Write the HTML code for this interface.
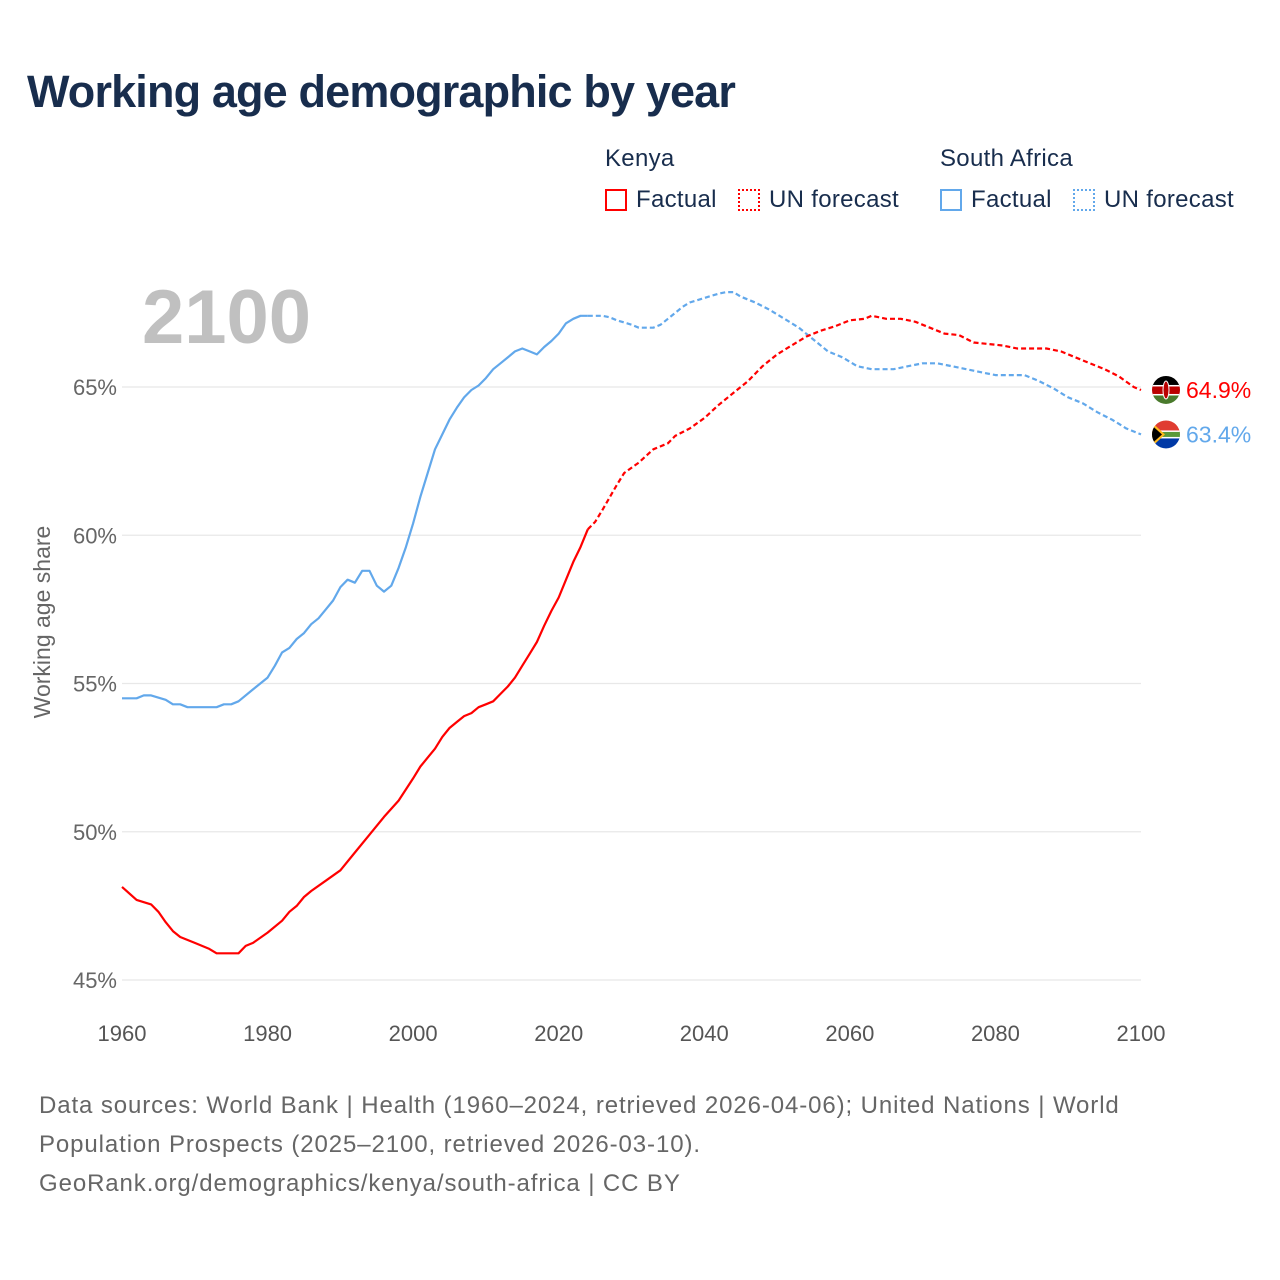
<!DOCTYPE html>
<html><head><meta charset="utf-8">
<style>
html,body{margin:0;padding:0;background:#fff;}
body{width:1280px;height:1280px;position:relative;overflow:hidden;font-family:"Liberation Sans",sans-serif;}
#title{position:absolute;left:27px;top:66px;font-size:45px;font-weight:bold;color:#182d4d;margin:0;letter-spacing:-0.85px;}
.lg{position:absolute;font-size:24px;color:#182d4d;letter-spacing:0.3px;}
.box{position:absolute;width:22px;height:22px;box-sizing:border-box;}
#src{position:absolute;left:39px;top:1086px;font-size:24px;line-height:39px;color:#666;letter-spacing:0.9px;}
svg{position:absolute;left:0;top:0;}
</style></head><body>
<h1 id="title">Working age demographic by year</h1>
<div class="lg" style="left:605px;top:145px">Kenya</div>
<div class="lg" style="left:940px;top:145px">South Africa</div>
<div class="box" style="left:605px;top:189px;border:2px solid #f00"></div>
<div class="lg" style="left:636px;top:186px">Factual</div>
<div class="box" style="left:738px;top:189px;border:2px dotted #f00"></div>
<div class="lg" style="left:769px;top:186px">UN forecast</div>
<div class="box" style="left:940px;top:189px;border:2px solid #62a8eb"></div>
<div class="lg" style="left:971px;top:186px">Factual</div>
<div class="box" style="left:1073px;top:189px;border:2px dotted #62a8eb"></div>
<div class="lg" style="left:1104px;top:186px">UN forecast</div>
<svg id="chart" width="1280" height="1280"></svg>
<div id="src">Data sources: World Bank | Health (1960–2024, retrieved 2026-04-06); United Nations | World<br>Population Prospects (2025–2100, retrieved 2026-03-10).<br>GeoRank.org/demographics/kenya/south-africa | CC BY</div>
<script>
const xTicks=[1960,1980,2000,2020,2040,2060,2080,2100];
const yTicks=[45,50,55,60,65];
const saFactYears=[1960,1962,1963,1964,1966,1967,1968,1969,1972,1973,1974,1975,1976,1978,1979,1980,1981,1982,1983,1984,1985,1986,1987,1988,1989,1990,1991,1992,1993,1994,1995,1996,1997,1998,1999,2000,2001,2002,2003,2004,2005,2006,2007,2008,2009,2010,2011,2012,2013,2014,2015,2016,2017,2018,2019,2020,2021,2022,2023,2024];
const saFactVals=[54.5,54.5,54.6,54.6,54.45,54.3,54.3,54.2,54.2,54.2,54.3,54.3,54.4,54.8,55.0,55.2,55.6,56.05,56.2,56.5,56.7,57.0,57.2,57.5,57.8,58.25,58.5,58.4,58.8,58.8,58.3,58.1,58.3,58.9,59.6,60.4,61.3,62.1,62.9,63.4,63.9,64.3,64.65,64.9,65.05,65.3,65.6,65.8,66.0,66.2,66.3,66.2,66.1,66.35,66.55,66.8,67.15,67.3,67.4,67.4];
const saFcYears=[2024,2026,2027,2028,2030,2031,2033,2034,2035,2036,2037,2038,2040,2042,2043,2044,2045,2047,2049,2051,2053,2055,2057,2059,2061,2063,2066,2068,2070,2072,2074,2076,2078,2080,2084,2086,2088,2090,2092,2094,2096,2098,2100];
const saFcVals=[67.4,67.4,67.35,67.25,67.1,67.0,67.0,67.1,67.3,67.5,67.7,67.85,68.0,68.15,68.2,68.2,68.05,67.85,67.6,67.3,67.0,66.6,66.2,66.0,65.7,65.6,65.6,65.7,65.8,65.8,65.7,65.6,65.5,65.4,65.4,65.2,64.95,64.65,64.45,64.15,63.9,63.6,63.4];
const keFactYears=[1960,1962,1964,1965,1966,1967,1968,1970,1972,1973,1976,1977,1978,1980,1982,1983,1984,1985,1986,1988,1990,1992,1994,1996,1998,2000,2001,2002,2003,2004,2005,2006,2007,2008,2009,2010,2011,2012,2013,2014,2015,2016,2017,2018,2019,2020,2021,2022,2023,2024];
const keFactVals=[48.14,47.7,47.55,47.3,46.95,46.65,46.45,46.25,46.05,45.9,45.9,46.15,46.25,46.6,47.0,47.3,47.5,47.8,48.0,48.35,48.7,49.3,49.9,50.5,51.05,51.8,52.2,52.5,52.8,53.2,53.5,53.7,53.9,54.0,54.2,54.3,54.4,54.65,54.9,55.2,55.6,56.0,56.4,56.95,57.45,57.9,58.5,59.1,59.6,60.2];
const keFcYears=[2024,2025,2026,2028,2029,2031,2033,2035,2036,2038,2040,2042,2044,2046,2048,2050,2052,2054,2056,2058,2060,2062,2063,2065,2067,2069,2071,2073,2075,2077,2079,2081,2083,2087,2089,2091,2093,2095,2097,2099,2100];
const keFcVals=[60.2,60.45,60.85,61.7,62.1,62.45,62.9,63.1,63.35,63.6,63.95,64.4,64.8,65.2,65.7,66.1,66.4,66.7,66.9,67.05,67.25,67.3,67.4,67.3,67.3,67.2,67.0,66.8,66.75,66.5,66.45,66.4,66.3,66.3,66.2,66.0,65.8,65.6,65.35,65.0,64.9];
const endLabels=["64.9%","63.4%"];
const NS="http://www.w3.org/2000/svg";
const svg=document.getElementById('chart');
const X0=122,X1=1141,Y65=387,Y45=980;
function xs(y){return X0+(y-1960)*(X1-X0)/140;}
function ys(v){return Y45-(v-45)*(Y45-Y65)/20;}
function mk(tag,attrs){const e=document.createElementNS(NS,tag);for(const k in attrs)e.setAttribute(k,attrs[k]);svg.appendChild(e);return e;}
yTicks.forEach(t=>{
  const g=mk('line',{x1:X0,x2:X1,y1:ys(t),y2:ys(t),stroke:'#e8e8e8','stroke-width':1.3});
  
  
  const l=mk('text',{x:117,y:ys(t)+8,'text-anchor':'end','font-size':22,fill:'#666','font-family':'Liberation Sans, sans-serif'});
  l.textContent=t+'%';
  
  
});
xTicks.forEach(t=>{
  const l=mk('text',{x:xs(t),y:1041,'text-anchor':'middle','font-size':22,fill:'#555','font-family':'Liberation Sans, sans-serif'});
  l.textContent=t;
  
  
});
const yt=mk('text',{x:0,y:0,transform:'translate(50,622) rotate(-90)','text-anchor':'middle','font-size':23,fill:'#666','font-family':'Liberation Sans, sans-serif'});
yt.textContent='Working age share';


const yr=mk('text',{x:142,y:343,'font-size':76,'font-weight':'bold',fill:'#c0c0c0','font-family':'Liberation Sans, sans-serif'});
yr.textContent='2100';


function line(years,vals,color,dash,name){
  const d=years.map((y,i)=>(i?'L':'M')+xs(y).toFixed(1)+','+ys(vals[i]).toFixed(1)).join('');
  const p=mk('path',{d:d,fill:'none',stroke:color,'stroke-width':2.2,'stroke-linejoin':'round'});
  if(dash)p.setAttribute('stroke-dasharray','5,3');
  
  
}
line(saFactYears,saFactVals,'#62a8eb',false,'south-africa-factual-line');
line(saFcYears,saFcVals,'#62a8eb',true,'south-africa-forecast-line');
line(keFactYears,keFactVals,'#ff0000',false,'kenya-factual-line');
line(keFcYears,keFcVals,'#ff0000',true,'kenya-forecast-line');
function flag(cx,cy,stripes,name){
  const g=document.createElementNS(NS,'g');svg.appendChild(g);
  
  
  const id='c'+name;
  const cp=document.createElementNS(NS,'clipPath');cp.setAttribute('id',id);
  const c=document.createElementNS(NS,'circle');c.setAttribute('cx',cx);c.setAttribute('cy',cy);c.setAttribute('r',14);cp.appendChild(c);g.appendChild(cp);
  const inner=document.createElementNS(NS,'g');inner.setAttribute('clip-path','url(#'+id+')');g.appendChild(inner);
  stripes.forEach(s=>{const r=document.createElementNS(NS,s[0]);for(const k in s[1])r.setAttribute(k,s[1][k]);inner.appendChild(r);});
}
const kx=xs(2100)+25,ky=ys(64.9),sx=xs(2100)+25,sy=ys(63.4);
flag(kx,ky,[['rect',{x:kx-14,y:ky-14,width:28,height:10,fill:'#000'}],['rect',{x:kx-14,y:ky-4,width:28,height:9,fill:'#bb0000'}],['rect',{x:kx-14,y:ky+5,width:28,height:9,fill:'#4a7a2c'}],['rect',{x:kx-14,y:ky-5,width:28,height:1.5,fill:'#fff'}],['rect',{x:kx-14,y:ky+4,width:28,height:1.5,fill:'#fff'}],['ellipse',{cx:kx,cy:ky,rx:3,ry:9,fill:'#bb0000',stroke:'#fff','stroke-width':1}]],'kenya-flag');
flag(sx,sy,[['rect',{x:sx-14,y:sy-14,width:28,height:14,fill:'#e03c31'}],['rect',{x:sx-14,y:sy,width:28,height:14,fill:'#0039a6'}],['rect',{x:sx-14,y:sy-4,width:28,height:8,fill:'#fff'}],['rect',{x:sx-14,y:sy-2.5,width:28,height:5,fill:'#5a9a3a'}],['polygon',{points:(sx-14)+','+(sy-12)+' '+(sx-1)+','+sy+' '+(sx-14)+','+(sy+12),fill:'#ffb81c'}],['polygon',{points:(sx-14)+','+(sy-9)+' '+(sx-4)+','+sy+' '+(sx-14)+','+(sy+9),fill:'#000'}]],'south-africa-flag');
const kl=mk('text',{x:kx+20,y:ky+8,'font-size':23,fill:'#ff0000','font-family':'Liberation Sans, sans-serif'});
kl.textContent=endLabels[0];


const sl=mk('text',{x:sx+20,y:sy+8,'font-size':23,fill:'#62a8eb','font-family':'Liberation Sans, sans-serif'});
sl.textContent=endLabels[1];


</script>
</body></html>
